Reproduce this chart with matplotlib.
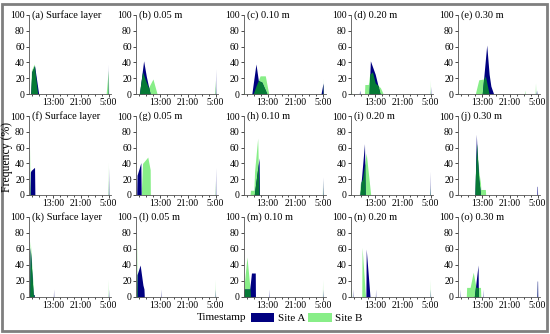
import numpy as np
import matplotlib
matplotlib.use("Agg")
import matplotlib.pyplot as plt
from matplotlib.patches import Patch, Rectangle

plt.rcParams['font.family'] = ['Liberation Serif', 'DejaVu Serif']

# panel titles, row by row
panel_titles = ["(a) Surface layer", "(b) 0.05 m", "(c) 0.10 m", "(d) 0.20 m", "(e) 0.30 m",
                "(f) Surface layer", "(g) 0.05 m", "(h) 0.10 m", "(i) 0.20 m", "(j) 0.30 m",
                "(k) Surface layer", "(l) 0.05 m", "(m) 0.10 m", "(n) 0.20 m", "(o) 0.30 m"]

# hour of day (hours after 5:00 next day are > 24)
tick_hours = [13, 21, 29]
tick_labels = ["13:00", "21:00", "5:00"]

# Site A: hours and frequency (%) per panel
site_a_hours = [
    [6.5, 6.8, 7.6, 8.8, 28.9, 28.95, 29.0],
    [7.0, 8.2, 9.0, 10.1, 28.95, 29.0, 29.05],
    [8.4, 9.6, 10.3, 11.3, 12.8, 28.4, 29.0, 29.05],
    [8.4, 8.5, 8.6, 11.2, 11.6, 13.0, 14.4, 28.95, 29.0, 29.05],
    [13.0, 14.3, 15.0, 15.5, 16.3, 28.6, 28.7, 28.8],
    [6.3, 6.4, 6.6, 7.6, 7.7, 28.95, 29.0, 29.05],
    [6.2, 6.3, 7.0, 7.4, 7.5, 28.95, 29.0, 29.05],
    [9.1, 10.5, 10.6, 28.85, 28.9, 28.95],
    [8.6, 9.9, 10.1, 28.85, 28.9, 28.95],
    [10.9, 11.3, 11.5, 12.0, 12.4, 12.5, 28.8, 28.85, 28.95, 29.0],
    [6.2, 6.35, 7.2, 7.5, 7.55, 13.05, 13.1, 13.15, 28.95, 29.0, 29.05],
    [6.2, 6.3, 7.2, 8.0, 8.3, 8.4, 13.15, 13.2, 13.25, 28.9, 28.95, 29.0],
    [6.1, 6.2, 7.8, 8.3, 9.4, 9.45, 13.35, 13.4, 13.45, 28.9, 28.95, 29.0],
    [6.45, 6.5, 6.55, 10.3, 10.4, 11.5, 13.05, 13.1, 13.15, 28.9, 28.95, 29.0],
    [6.45, 6.5, 6.55, 10.7, 11.8, 11.9, 13.25, 13.3, 13.35, 28.8, 28.9, 29.0, 29.05],
]
site_a_freq = [
    [0, 28, 36, 0, 0, 38, 0],
    [0, 42, 22, 0, 0, 32, 0],
    [0, 38, 17, 15, 0, 0, 14, 0],
    [0, 5, 0, 0, 42, 25, 0, 0, 10, 0],
    [0, 62, 25, 10, 0, 0, 5, 0],
    [0, 29, 31, 35, 0, 0, 35, 0],
    [0, 25, 35, 41, 0, 0, 35, 0],
    [0, 47, 0, 0, 23, 0],
    [0, 65, 0, 0, 30, 0],
    [0, 77, 55, 20, 5, 0, 0, 11, 11, 0],
    [0, 62, 3, 3, 0, 0, 10, 0, 0, 10, 0],
    [0, 28, 40, 15, 10, 0, 0, 10, 0, 0, 10, 0],
    [0, 10, 10, 30, 30, 0, 0, 10, 0, 0, 10, 0],
    [0, 10, 0, 0, 60, 0, 0, 10, 0, 0, 10, 0],
    [0, 10, 0, 0, 40, 0, 0, 10, 0, 0, 20, 20, 0],
]

# Site B: hours and frequency (%) per panel
site_b_hours = [
    [6.4, 6.7, 7.5, 8.5, 28.3, 28.9, 28.95],
    [6.9, 7.9, 8.7, 9.6, 10.9, 12.1, 28.8, 28.95, 29.0],
    [6.0, 6.1, 6.3, 8.8, 9.6, 10.8, 12.3, 13.3, 28.85, 28.9, 28.95],
    [6.0, 6.1, 6.2, 9.9, 10.0, 11.0, 11.4, 12.2, 13.0, 14.5, 15.3, 28.85, 28.9, 28.95],
    [6.0, 6.1, 6.2, 11.0, 12.0, 13.5, 13.9, 15.0, 25.2, 25.3, 25.4, 28.3, 28.4, 28.5],
    [6.2, 6.3, 6.4, 28.9, 28.95, 29.0],
    [7.5, 7.9, 9.4, 10.1, 10.15, 28.85, 28.9, 28.95],
    [7.9, 8.0, 9.0, 9.2, 10.1, 10.5, 28.8, 28.85, 28.9],
    [8.4, 8.7, 9.3, 10.4, 11.7, 28.8, 28.85, 28.9],
    [10.8, 11.4, 12.0, 12.5, 12.6, 13.9, 14.0],
    [6.2, 6.35, 7.4, 28.85, 28.9, 28.95],
    [6.2, 6.3, 6.4, 28.8, 28.85, 28.9],
    [6.1, 6.2, 7.0, 7.9, 8.0, 28.8, 28.85, 28.9],
    [6.0, 6.1, 6.2, 9.1, 9.2, 10.2, 28.8, 28.85, 28.9],
    [8.4, 8.5, 9.5, 10.4, 11.2, 12.5, 12.6, 28.7, 28.75, 28.8],
]
site_b_freq = [
    [0, 30, 38, 0, 0, 30, 0],
    [0, 28, 18, 8, 19, 0, 0, 18, 0],
    [5, 5, 0, 0, 10, 23, 23, 0, 0, 20, 0],
    [5, 5, 0, 0, 12, 12, 25, 28, 14, 8, 0, 0, 18, 0],
    [3, 3, 0, 0, 18, 19, 23, 0, 0, 5, 0, 0, 14, 0],
    [0, 60, 0, 0, 42, 0],
    [0, 40, 48, 32, 0, 0, 18, 0],
    [0, 6, 6, 30, 72, 0, 0, 20, 0],
    [0, 15, 20, 53, 0, 0, 13, 0],
    [0, 65, 30, 15, 7, 7, 0],
    [0, 70, 0, 0, 22, 0],
    [0, 80, 0, 0, 22, 0],
    [0, 15, 50, 10, 0, 0, 22, 0],
    [12, 12, 0, 0, 62, 0, 0, 22, 0],
    [0, 12, 12, 31, 12, 12, 0, 0, 22, 0],
]

COL_A = "#000080"
COL_B = "#88ee88"
COL_AB = "#067a36"

W, H = 550, 334
fig = plt.figure(figsize=(W / 100, H / 100), dpi=100)

# outer frame
fig.patches.append(Rectangle((2 / W, 3 / H), 545 / W, 327 / H, transform=fig.transFigure,
                             fill=False, edgecolor="#7f7f7f", linewidth=2))

col_left = [29, 136, 243.5, 351, 458]
row_y0 = [94, 195, 297]  # pixel row of y=0
row_h = [79, 79, 80]
ax_w = 82

grid = np.linspace(6, 29.7, 4000)

for i in range(15):
    r, c = divmod(i, 5)
    ax = fig.add_axes([col_left[c] / W, 1 - row_y0[r] / H, ax_w / W, row_h[r] / H])
    ta, fa = np.array(site_a_hours[i]), np.array(site_a_freq[i])
    tb, fb = np.array(site_b_hours[i]), np.array(site_b_freq[i])
    ax.fill_between(tb, 0, fb, color=COL_B, linewidth=0)
    ax.fill_between(ta, 0, fa, color=COL_A, linewidth=0)
    # region where both sites overlap
    both = np.minimum(np.interp(grid, ta, fa, left=0, right=0),
                      np.interp(grid, tb, fb, left=0, right=0))
    ax.fill_between(grid, 0, both, color=COL_AB, linewidth=0)

    ax.set_xlim(6, 29.7)
    ax.set_ylim(0, 100)
    ax.set_xticks(tick_hours)
    ax.set_xticklabels(tick_labels)
    ax.set_xticks(np.arange(7, 30, 2), minor=True)
    ax.set_yticks([0, 20, 40, 60, 80, 100])
    ax.tick_params(labelsize=7, length=2, width=0.5, pad=1, colors="black")
    ax.tick_params(which="minor", length=1.2, width=0.5)
    for s in ["top", "right"]:
        ax.spines[s].set_visible(False)
    for s in ["left", "bottom"]:
        ax.spines[s].set_linewidth(0.6)
        ax.spines[s].set_color("#555555")
    ax.set_facecolor("none")
    ax.text(0.04, 1.0, panel_titles[i], transform=ax.transAxes, fontsize=7.5,
            va="center", ha="left")

fig.text(7.5 / W, 0.53, "Frequency (%)", rotation=90, fontsize=8.5, va="center", ha="center")
fig.text(222 / W, 1 - 318 / H, "Timestamp", fontsize=8, va="center", ha="center")
handles = [Patch(facecolor=COL_A, label="Site A"), Patch(facecolor=COL_B, label="Site B")]
fig.legend(handles=handles, loc="center left", bbox_to_anchor=(251 / W, 1 - 318 / H), ncol=2,
           frameon=False, fontsize=8, handlelength=2.1, handleheight=0.9,
           handletextpad=0.3, columnspacing=0.3, borderpad=0, borderaxespad=0)

fig.savefig("out.png", dpi=100)
